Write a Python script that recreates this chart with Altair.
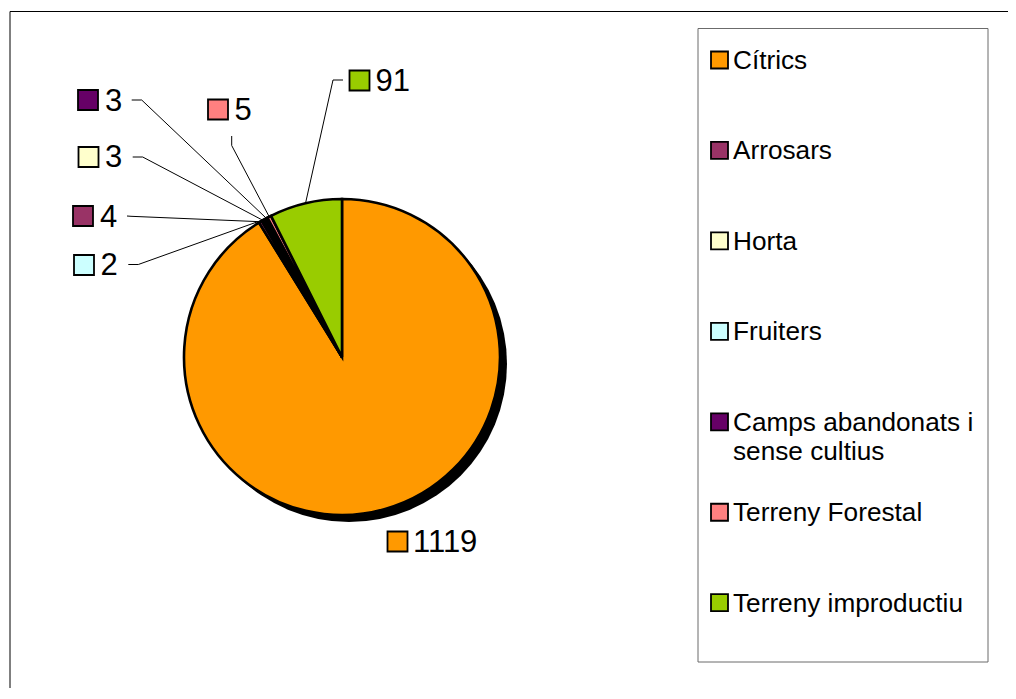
import math
import altair as alt
import pandas as pd

# ---------------- data ----------------
categories = ["Cítrics", "Arrosars", "Horta", "Fruiters",
              "Camps abandonats i sense cultius", "Terreny Forestal", "Terreny improductiu"]
values = [1119, 4, 3, 2, 3, 5, 91]
colors = ["#FF9900", "#993366", "#FFFFCC", "#CCFFFF", "#660066", "#FF8080", "#99CC00"]
legend_labels = ["Cítrics", "Arrosars", "Horta", "Fruiters",
                 "Camps abandonats i\nsense cultius", "Terreny Forestal", "Terreny improductiu"]

# ---------------- layout (page pixel coordinates) ----------------
W, H = 1000, 680
CX, CY, R = 342, 357, 158
SHADOW_D = 7
label_square = [(397.5, 541.5), (83, 216), (88.5, 157), (84, 265), (88, 100), (218, 109.5), (359.5, 80.5)]
label_text = [(413, 552), (100, 226.7), (105, 166.7), (100.5, 275), (105, 111), (234.5, 120), (375.5, 90.5)]
stub_start = [None, (127, 216), (132.7, 157), (128.3, 264.5), (131.7, 100), (231.7, 136), (343, 80)]
stub_end = [None, (131, 216.3), (142.7, 157), (138.3, 264.5), (141.7, 100), (231.7, 145.5), (333, 80)]
LEG_BOX = (698, 28.5, 988, 662)
LEG_Y0, LEG_STEP = 69, 90.45
FONT = "Liberation Sans"

rows = []
for i, (c, v) in enumerate(zip(categories, values)):
    r = dict(cat=c, value=v, idx=i,
             sqx=label_square[i][0], sqy=label_square[i][1],
             tx=label_text[i][0], ty=label_text[i][1])
    if stub_start[i] is not None:
        r.update(sx=stub_start[i][0], sy=stub_start[i][1], ex=stub_end[i][0], ey=stub_end[i][1], lead=1)
    else:
        r.update(lead=0)
    rows.append(r)
pie_df = pd.DataFrame(rows)

legend_df = pd.DataFrame({"cat": categories, "label": legend_labels, "idx": list(range(len(categories)))})
frame_df = pd.DataFrame([
    dict(x=10, y=11.5, x2=8 + W, y2=11.5),
    dict(x=10, y=11.5, x2=10, y2=8 + H),
])
box_df = pd.DataFrame([dict(x=LEG_BOX[0], y=LEG_BOX[1], x2=LEG_BOX[2], y2=LEG_BOX[3])])

xs = alt.Scale(domain=[8, 8 + W], range=[0, W], nice=False, zero=False)
ys = alt.Scale(domain=[8, 8 + H], range=[0, H], nice=False, zero=False)
cscale = alt.Scale(domain=categories, range=colors)

frame = alt.Chart(frame_df).mark_rule(color="#000000", strokeWidth=1).encode(
    x=alt.X("x:Q", scale=xs, axis=None), y=alt.Y("y:Q", scale=ys, axis=None),
    x2="x2:Q", y2="y2:Q")

box = alt.Chart(box_df).mark_rect(fill="white", stroke="#6b6b6b", strokeWidth=1).encode(
    x=alt.X("x:Q", scale=xs, axis=None), y=alt.Y("y:Q", scale=ys, axis=None),
    x2="x2:Q", y2="y2:Q")

leg_base = alt.Chart(legend_df).transform_calculate(
    ly=f"{LEG_Y0} + datum.idx * {LEG_STEP}", lsy=f"{LEG_Y0} + datum.idx * {LEG_STEP} - 9",
    lx="733", lsx="719.5")

leg_sq = leg_base.mark_square(size=289, stroke="black", strokeWidth=1.8, opacity=1).encode(
    x=alt.X("lsx:Q", scale=xs, axis=None), y=alt.Y("lsy:Q", scale=ys, axis=None),
    fill=alt.Fill("cat:N", scale=cscale, legend=None))

leg_txt = leg_base.mark_text(align="left", baseline="alphabetic", font=FONT, fontSize=26.2,
                             color="black", lineBreak="\n", lineHeight=29.5).encode(
    x=alt.X("lx:Q", scale=xs, axis=None), y=alt.Y("ly:Q", scale=ys, axis=None),
    text="label:N")

shadow = alt.Chart(pd.DataFrame({"v": [1]})).mark_arc(
    theta=0, theta2=2 * math.pi, radius=R, color="black").encode(
    x=alt.value(CX + SHADOW_D - 8), y=alt.value(CY + SHADOW_D - 8))

pie = alt.Chart(pie_df).mark_arc(radius=R, stroke="black", strokeWidth=2.6).encode(
    theta=alt.Theta("value:Q", stack=True),
    order=alt.Order("idx:Q", sort="ascending"),
    color=alt.Color("cat:N", scale=cscale, legend=None),
    x=alt.value(CX - 8), y=alt.value(CY - 8))

lead_base = alt.Chart(pie_df).transform_joinaggregate(total="sum(value)").transform_window(
    cum="sum(value)", sort=[alt.SortField("idx")]).transform_calculate(
    mid="(datum.cum - datum.value / 2) / datum.total * 2 * PI",
    px=f"{CX} + {R} * sin(datum.mid)",
    py=f"{CY} - {R} * cos(datum.mid)").transform_filter("datum.lead == 1")

stubs = lead_base.mark_rule(color="black", strokeWidth=1).encode(
    x=alt.X("sx:Q", scale=xs, axis=None), y=alt.Y("sy:Q", scale=ys, axis=None),
    x2="ex:Q", y2="ey:Q")

leaders = lead_base.mark_rule(color="black", strokeWidth=1).encode(
    x=alt.X("ex:Q", scale=xs, axis=None), y=alt.Y("ey:Q", scale=ys, axis=None),
    x2="px:Q", y2="py:Q")

lab_sq = alt.Chart(pie_df).mark_square(size=400, stroke="black", strokeWidth=1.8, opacity=1).encode(
    x=alt.X("sqx:Q", scale=xs, axis=None), y=alt.Y("sqy:Q", scale=ys, axis=None),
    fill=alt.Fill("cat:N", scale=cscale, legend=None))

lab_txt = alt.Chart(pie_df).mark_text(align="left", baseline="alphabetic", font=FONT,
                                      fontSize=31, color="black").encode(
    x=alt.X("tx:Q", scale=xs, axis=None), y=alt.Y("ty:Q", scale=ys, axis=None),
    text=alt.Text("value:Q", format="d"))

chart = alt.layer(frame, box, leg_sq, leg_txt, shadow, pie, stubs, leaders, lab_sq, lab_txt).properties(
    width=W, height=H, padding=0, autosize=alt.AutoSizeParams(type="none"),
    background="white").configure_view(stroke="transparent")

chart.save("out.html", embed_options={"renderer": "svg", "actions": False})
